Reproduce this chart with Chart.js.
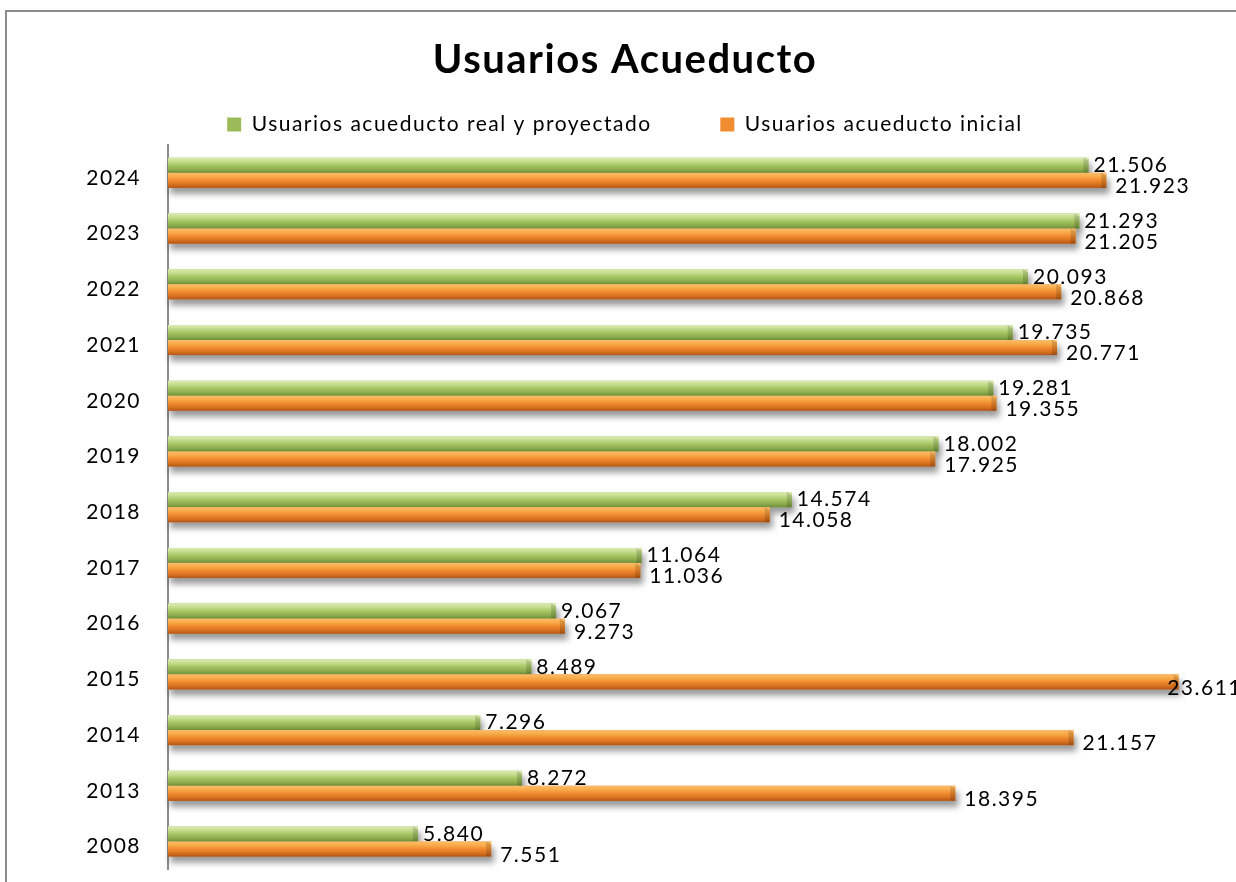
<!DOCTYPE html>
<html>
<head>
<meta charset="utf-8">
<script src="https://cdn.jsdelivr.net/npm/chart.js@4.4.1/dist/chart.umd.min.js"></script>
<style>
    html, body { margin: 0; padding: 0; background: #fff; overflow: hidden; }
    #wrap { position: relative; width: 1236px; height: 882px; overflow: hidden; }
    #frame { position: absolute; left: 5px; top: 10px; width: 1300px; height: 900px;
             border-left: 2px solid #8c8c8c; border-top: 2px solid #8c8c8c; }
    #usuariosChart { position: absolute; left: 0; top: 0; }
</style>
</head>
<body>
<div id="wrap">
    <div id="frame"></div>
    <canvas id="usuariosChart" width="1250" height="882"></canvas>
</div>
<script>
const years = ['2024', '2023', '2022', '2021', '2020', '2019', '2018', '2017', '2016', '2015', '2014', '2013', '2008'];
const usuariosReal = [21506, 21293, 20093, 19735, 19281, 18002, 14574, 11064, 9067, 8489, 7296, 8272, 5840];
const usuariosInicial = [21923, 21205, 20868, 20771, 19355, 17925, 14058, 11036, 9273, 23611, 21157, 18395, 7551];
const xMax = 25000;

// formato con punto de miles
function fmt(v) {
    return String(v).replace(/\B(?=(\d{3})+(?!\d))/g, '.');
}

// el texto del original sale algo espaciado
const spacing = {
    id: 'spacing',
    beforeUpdate(chart) { chart.ctx.letterSpacing = '1.5px'; },
    beforeDraw(chart) { chart.ctx.letterSpacing = '1.5px'; }
};

// sombra difusa debajo de las barras
const barShadow = {
    id: 'barShadow',
    beforeDatasetsDraw(chart) {
        const ctx = chart.ctx;
        ctx.save();
        ctx.filter = 'blur(3px)';
        ctx.fillStyle = 'rgba(0, 0, 0, 0.4)';
        chart.data.datasets.forEach((ds, di) => {
            chart.getDatasetMeta(di).data.forEach(bar => {
                const h = bar.height;
                ctx.fillRect(bar.base + 2, bar.y - h / 2 + 6, bar.x - bar.base + 1, h);
            });
        });
        ctx.restore();
    }
};

// brillo tipo cilindro sobre cada barra
const barShade = {
    id: 'barShade',
    afterDatasetsDraw(chart) {
        const ctx = chart.ctx;
        const stops = [
            ['#dcecb4', '#c4dc8c', '#a6c664', '#8cac4e', '#6e8e38'],
            ['#fbbd6c', '#f9aa48', '#f18c30', '#d8711e', '#b0561a']
        ];
        ctx.save();
        chart.data.datasets.forEach((ds, di) => {
            chart.getDatasetMeta(di).data.forEach(bar => {
                const h = bar.height;
                const top = bar.y - h / 2;
                const w = bar.x - bar.base;
                const g = ctx.createLinearGradient(0, top, 0, top + h);
                const s = stops[di];
                g.addColorStop(0, s[0]);
                g.addColorStop(0.25, s[1]);
                g.addColorStop(0.5, s[2]);
                g.addColorStop(0.78, s[3]);
                g.addColorStop(1, s[4]);
                ctx.fillStyle = g;
                ctx.fillRect(bar.base, top, w, h);
                // tapa del extremo
                ctx.fillStyle = 'rgba(0, 0, 0, 0.14)';
                ctx.beginPath();
                ctx.moveTo(bar.x - 5, top);
                ctx.lineTo(bar.x, top + 3);
                ctx.lineTo(bar.x, top + h);
                ctx.lineTo(bar.x - 5, top + h);
                ctx.closePath();
                ctx.fill();
            });
        });
        ctx.restore();
    }
};

// etiquetas de valor al final de cada barra
const valueLabels = {
    id: 'valueLabels',
    afterDatasetsDraw(chart) {
        const ctx = chart.ctx;
        const limit = chart.chartArea.right + 4;
        ctx.save();
        ctx.font = '21px Lato';
        ctx.fillStyle = '#000';
        ctx.textAlign = 'left';
        ctx.textBaseline = 'middle';
        chart.data.datasets.forEach((ds, di) => {
            chart.getDatasetMeta(di).data.forEach((bar, i) => {
                const txt = fmt(ds.data[i]);
                const dx = di === 0 ? 5 : 9;
                const dy = di === 0 ? 0 : 6;
                // si no cabe, se mete hacia dentro como en Excel
                const x = Math.min(bar.x + dx, limit - ctx.measureText(txt).width);
                ctx.fillText(txt, x, bar.y + dy);
            });
        });
        ctx.restore();
    }
};

const ctx = document.getElementById('usuariosChart').getContext('2d');
const usuariosChart = new Chart(ctx, {
    type: 'bar',
    data: {
        labels: years,
        datasets: [
            {
                label: 'Usuarios acueducto real y proyectado',
                data: usuariosReal,
                backgroundColor: '#9bbb59',
                borderWidth: 0
            },
            {
                label: 'Usuarios acueducto inicial',
                data: usuariosInicial,
                backgroundColor: '#f28c30',
                borderWidth: 0
            }
        ]
    },
    options: {
        indexAxis: 'y',
        responsive: false,
        animation: false,
        categoryPercentage: 0.54,
        barPercentage: 1,
        layout: {
            padding: { left: 12, right: 12, top: 0, bottom: 12 }
        },
        scales: {
            x: {
                display: false,
                min: 0,
                max: xMax
            },
            y: {
                afterFit: function(scale) {
                    scale.width = 156;
                },
                grid: { display: false, drawTicks: true, tickLength: 27 },
                border: { display: true, color: '#8c8c8c', width: 2 },
                ticks: {
                    color: '#000',
                    padding: 0,
                    labelOffset: 5,
                    font: { family: 'Lato', size: 21 }
                }
            }
        },
        plugins: {
            title: {
                display: true,
                text: 'Usuarios Acueducto',
                color: '#000',
                font: { family: 'Lato', size: 40, weight: 'bold' },
                padding: { top: 36, bottom: 30 }
            },
            legend: {
                position: 'top',
                labels: {
                    color: '#000',
                    boxWidth: 14,
                    boxHeight: 14,
                    padding: 0,
                    font: { family: 'Lato', size: 21 },
                    generateLabels: function(chart) {
                        const items = Chart.defaults.plugins.legend.labels.generateLabels(chart);
                        // hueco entre las dos entradas
                        items.forEach((it, i) => {
                            if (i < items.length - 1) it.text = it.text + '          ';
                        });
                        return items;
                    }
                }
            },
            tooltip: { enabled: false }
        }
    },
    plugins: [spacing, barShadow, barShade, valueLabels]
});
</script>
</body>
</html>
